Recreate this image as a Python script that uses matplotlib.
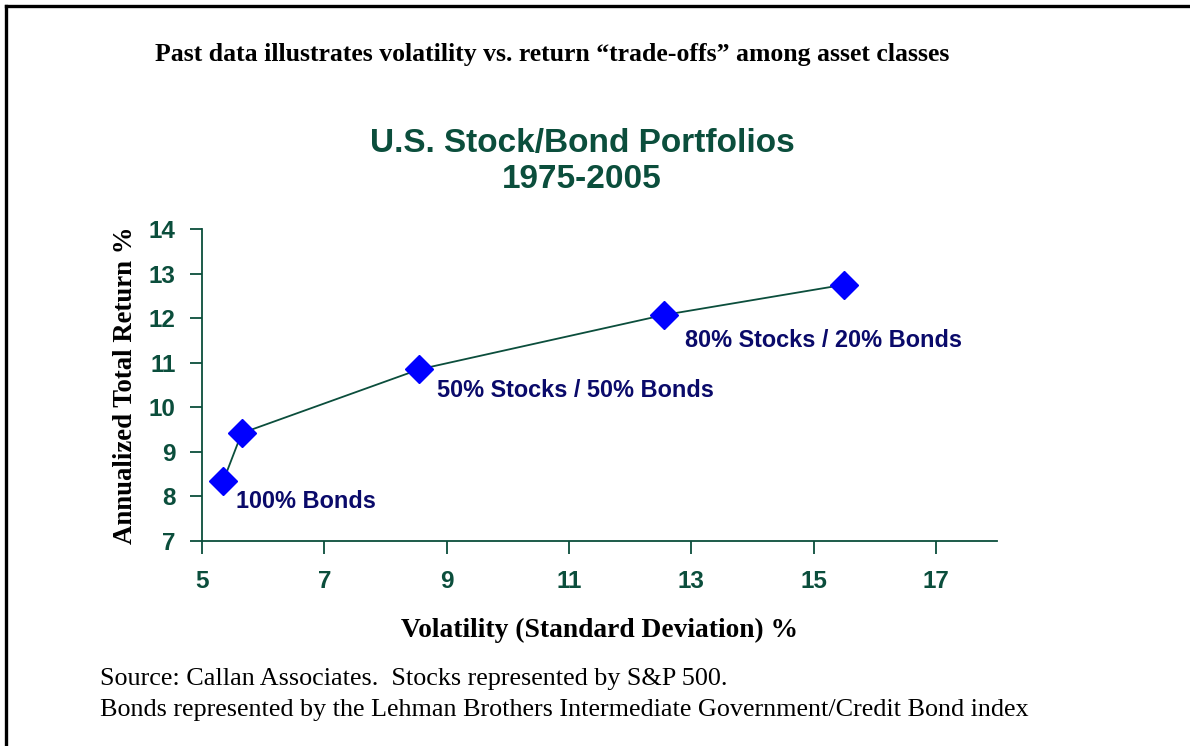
import matplotlib
matplotlib.use("Agg")
import matplotlib.pyplot as plt
from matplotlib.lines import Line2D

# data
volatility = [5.35, 5.65, 8.55, 12.55, 15.5]
total_return = [8.35, 9.42, 10.85, 12.07, 12.75]

labels = ["100% Bonds", "50% Stocks / 50% Bonds", "80% Stocks / 20% Bonds"]
label_x = [5.55, 8.85, 12.9]
label_y = [7.88, 10.37, 11.5]

x_ticks = [5, 7, 9, 11, 13, 15, 17]
y_ticks = [7, 8, 9, 10, 11, 12, 13, 14]

green = "#0b4e3c"
navy = "#0a0a6a"
serif = "Liberation Serif"
sans = "Liberation Sans"

fig = plt.figure(figsize=(11.9, 7.46), dpi=100)
ax = fig.add_axes([0.1697, 0.2748, 0.8378 - 0.1697, 0.6930 - 0.2748])

ax.plot(volatility, total_return, "-", color=green, lw=1.3, zorder=2)
ax.plot(volatility, total_return, "D", color="#0000ff", ms=14, mec="#0000ff", zorder=3)

for t, lx, ly in zip(labels, label_x, label_y):
    ax.text(lx, ly, t, color=navy, fontsize=16.9, fontweight="bold", family=sans,
            ha="left", va="center")

ax.set_xlim(5, 18)
ax.set_ylim(7, 14)
ax.set_xticks(x_ticks)
ax.set_yticks(y_ticks)
for s in ["top", "right"]:
    ax.spines[s].set_visible(False)
for s in ["left", "bottom"]:
    ax.spines[s].set_color(green)
    ax.spines[s].set_linewidth(1.3)
ax.tick_params(colors=green, length=9, width=1.3, pad=10)
ax.tick_params(axis="x", pad=12)
for lab in ax.get_xticklabels() + ax.get_yticklabels():
    lab.set_fontweight("bold")
    lab.set_fontfamily(sans)
    lab.set_fontsize(17.5)
    lab.set_color(green)

ax.set_xlabel("Volatility (Standard Deviation) %", family=serif, fontweight="bold",
              fontsize=19.8, labelpad=18)
ax.set_ylabel("Annualized Total Return %", family=serif, fontweight="bold",
              fontsize=19.3, labelpad=8)

fig.text(0.489, 0.784, "U.S. Stock/Bond Portfolios\n1975-2005", ha="center", va="center",
         family=sans, fontweight="bold", fontsize=24, color=green, linespacing=1.2)

fig.text(0.464, 0.927, "Past data illustrates volatility vs. return \u201ctrade-offs\u201d among asset classes",
         ha="center", va="center", family=serif, fontweight="bold", fontsize=18.5)

fig.text(0.084, 0.069, "Source: Callan Associates.  Stocks represented by S&P 500.\n"
         "Bonds represented by the Lehman Brothers Intermediate Government/Credit Bond index",
         ha="left", va="center", family=serif, fontsize=18.8, linespacing=1.48)

# frame lines at top and left
fig.add_artist(Line2D([0.005, 1.0], [0.992, 0.992], color="black", lw=2.4))
fig.add_artist(Line2D([0.005, 0.005], [0.0, 0.992], color="black", lw=2.4))

fig.savefig("out.png", dpi=100)
